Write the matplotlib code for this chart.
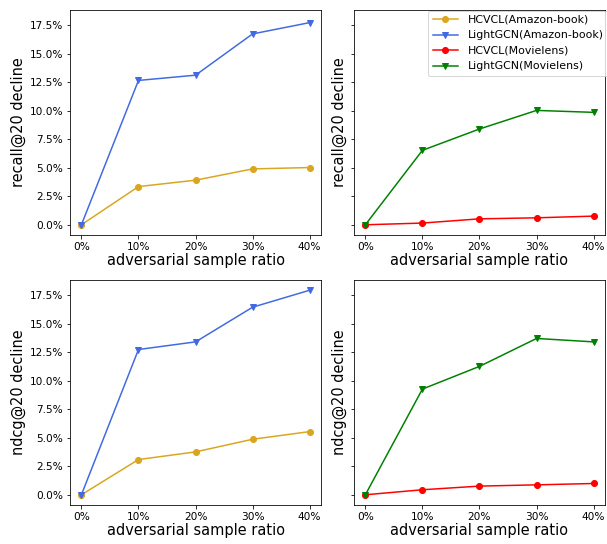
import matplotlib
matplotlib.use("Agg")
import matplotlib.pyplot as plt
from matplotlib.ticker import PercentFormatter

ratios = ["0%", "10%", "20%", "30%", "40%"]

recall_hcvcl_amazon = [0.0, 3.35, 3.91, 4.90, 5.02]
recall_lightgcn_amazon = [0.0, 12.66, 13.12, 16.74, 17.73]
recall_hcvcl_ml = [0.0, 0.15, 0.52, 0.61, 0.76]
recall_lightgcn_ml = [0.0, 6.53, 8.40, 10.03, 9.86]

ndcg_hcvcl_amazon = [0.0, 3.09, 3.76, 4.87, 5.54]
ndcg_lightgcn_amazon = [0.0, 12.74, 13.41, 16.45, 17.94]
ndcg_hcvcl_ml = [0.0, 0.44, 0.76, 0.87, 0.99]
ndcg_lightgcn_ml = [0.0, 9.27, 11.26, 13.71, 13.41]

labels = ["HCVCL(Amazon-book)", "LightGCN(Amazon-book)", "HCVCL(Movielens)", "LightGCN(Movielens)"]
colors = ["#DAA520", "#4169E1", "#FF0000", "#008000"]
markers = ["o", "v", "o", "v"]

DPI = 72
fig, axes = plt.subplots(2, 2, figsize=(607 / DPI, 544 / DPI), dpi=DPI, sharey=True)
fig.subplots_adjust(left=70/607, right=605/607, top=1-10/544, bottom=1-505/544,
                    wspace=0.131, hspace=0.2)

x = list(range(len(ratios)))
panels = [
    (axes[0, 0], [(recall_hcvcl_amazon, 0), (recall_lightgcn_amazon, 1)], "recall@20 decline"),
    (axes[0, 1], [(recall_hcvcl_ml, 2), (recall_lightgcn_ml, 3)], "recall@20 decline"),
    (axes[1, 0], [(ndcg_hcvcl_amazon, 0), (ndcg_lightgcn_amazon, 1)], "ndcg@20 decline"),
    (axes[1, 1], [(ndcg_hcvcl_ml, 2), (ndcg_lightgcn_ml, 3)], "ndcg@20 decline"),
]

handles = {}
for ax, series, ylabel in panels:
    for vals, i in series:
        h, = ax.plot(x, [v / 100 for v in vals], color=colors[i], marker=markers[i],
                     markersize=6, linewidth=1.5, label=labels[i])
        handles[i] = h
    ax.set_xticks(x)
    ax.set_xticklabels(ratios, fontsize=10.5)
    ax.set_xlabel("adversarial sample ratio", fontsize=14.5, labelpad=1)
    ax.set_ylabel(ylabel, fontsize=14.5, labelpad=3)
    ax.yaxis.set_major_formatter(PercentFormatter(1, decimals=1))
    ax.tick_params(axis="y", labelsize=10.5)

axes[0, 0].set_yticks([i * 0.025 for i in range(8)])

axes[0, 1].legend([handles[i] for i in range(4)], labels, loc="upper right",
                  bbox_to_anchor=(1.035, 1.022), fontsize=11, framealpha=0.8,
                  handlelength=2.3, handletextpad=0.9, borderpad=0.4,
                  labelspacing=0.5)

fig.savefig("out.png", dpi=DPI)
